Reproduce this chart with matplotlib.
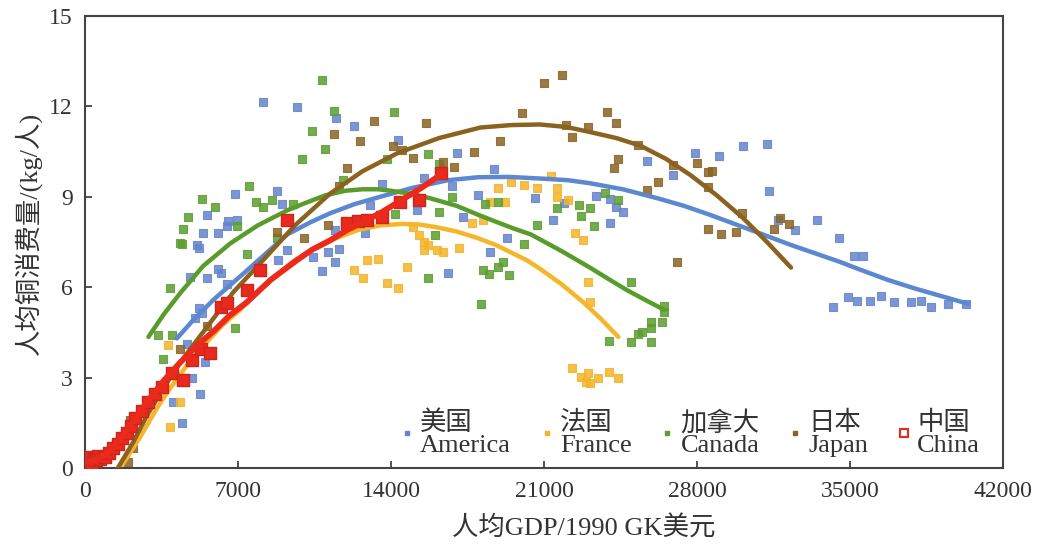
import numpy as np
import matplotlib
matplotlib.use("Agg")
import matplotlib.pyplot as plt
from matplotlib.lines import Line2D

plt.rcParams['font.family'] = ['Liberation Serif', 'Noto Sans CJK SC']

# per-capita GDP (1990 GK $) and per-capita copper use (kg/person), by country
usa_gdp = [4030, 4440, 4900, 5270, 5500, 4670, 5040, 5200, 5360, 4800, 5600, 6100, 6200, 6500,
           5200, 5100, 5400, 6100, 6500, 6550, 6960, 5600, 6870, 8800, 9000, 8150, 9700, 11500,
           12300, 14300, 13600, 13050, 12800, 11450, 8850, 9250, 10450, 10860, 11100, 11450,
           11600, 15500, 17000, 18000, 17300, 16600, 18700, 16800, 15200, 18550, 19300, 20600,
           21400, 21900, 23400, 24000, 24300, 24600, 24000, 25700, 26900, 27900, 29000, 30100,
           31200, 31300, 31700, 32500, 33500, 34500, 35200, 35600, 34200, 34900, 35300, 35900,
           36400, 37000, 37800, 38250, 38700, 39500, 40300]
usa_cu = [2.19, 1.49, 2.99, 2.45, 3.52, 4.1, 4.98, 5.3, 5.14, 6.34, 6.3, 6.6, 6.47, 6.1,
          7.3, 7.4, 7.8, 7.8, 8.03, 8.2, 8.23, 8.4, 9.1, 9.2, 8.76, 12.15, 11.98, 11.6,
          11.35, 10.9, 9.43, 8.73, 7.8, 7.9, 6.9, 7.24, 7.0, 6.55, 7.17, 6.84,
          7.27, 9.62, 10.45, 9.06, 8.33, 6.47, 9.92, 9.36, 8.56, 7.17, 7.63, 8.96,
          8.23, 8.8, 9.03, 8.93, 8.66, 8.5, 8.13, 10.2, 9.72, 10.45, 10.35, 10.69,
          10.75, 9.19, 8.23, 7.9, 8.23, 7.63, 7.04, 7.04, 5.34, 5.68, 5.54, 5.54,
          5.71, 5.5, 5.5, 5.54, 5.34, 5.44, 5.44]

fra_gdp = [3800, 4350, 3900, 12300, 12700, 12900, 13400, 13800, 14300, 14750, 15000, 15300,
           15500, 15500, 15700, 16100, 16400, 17100, 17700, 18200, 18550, 19200, 18900, 19500,
           20100, 20700, 21300, 21600, 21600, 22100, 22400, 22800, 23000, 23100, 22300, 22700,
           23000, 23100, 22900, 23450, 23950, 24400]
fra_cu = [4.08, 2.19, 1.36, 6.57, 6.3, 6.9, 6.94, 6.15, 5.98, 6.67, 8.0, 7.73,
          7.5, 7.24, 7.4, 7.24, 7.17, 7.3, 8.13, 8.23, 8.83, 8.83, 9.29, 9.49,
          9.39, 9.29, 9.69, 9.29, 9.0, 8.9, 7.8, 7.57, 6.17, 5.5, 3.32, 3.02,
          3.15, 2.82, 2.85, 2.99, 3.19, 2.99]

can_gdp = [3350, 3570, 3970, 3900, 4440, 4350, 4500, 4700, 5360, 5960, 6870, 7400, 8800, 6960,
           7500, 7800, 8150, 8570, 9500, 9940, 10400, 10860, 11000, 11400, 11800, 13800, 14150,
           14200, 15700, 16200, 16800, 16200, 16000, 15700, 18100, 18200, 18500, 18900, 19100,
           19400, 20100, 18300, 18900, 20700, 21600, 22600, 22700, 23100, 23300, 23800, 24400,
           25000, 23950, 25000, 25300, 25500, 25900, 25900, 25900, 26400, 26500, 26500]
can_cu = [4.41, 3.62, 4.41, 5.97, 7.43, 7.47, 7.93, 8.33, 8.93, 8.66, 4.65, 7.1, 7.63, 8.03,
          9.36, 8.83, 8.66, 8.9, 8.76, 10.26, 11.2, 12.88, 10.6, 11.85, 9.56, 10.26, 11.8,
          8.43, 10.42, 10.09, 8.99, 8.5, 7.73, 6.3, 5.44, 6.57, 6.44, 6.67, 6.84,
          6.4, 7.43, 8.76, 8.83, 8.07, 8.63, 8.73, 8.36, 8.63, 8.03, 9.13, 8.9,
          6.17, 4.21, 4.18, 4.45, 4.51, 4.18, 4.85, 4.65, 4.85, 5.38, 5.18]

jpn_gdp = [1900, 1970, 2060, 2200, 4350, 5600, 8800, 10000, 11100, 11600, 12000, 11400, 12600,
           13200, 14100, 14500, 15000, 15600, 16400, 16900, 17800, 19000, 20000, 21000, 21800,
           22000, 22300, 23000, 23900, 24300, 24400, 24200, 25300, 25700, 26200, 26900, 28000,
           28500, 28700, 28500, 28500, 29100, 29800, 30050, 31500, 31800, 32200, 27100]
jpn_cu = [1.1, 0.2, 1.6, 0.66, 3.95, 4.72, 7.83, 7.63, 8.05, 9.36, 9.96, 11.1, 10.85,
          11.5, 10.7, 10.55, 10.3, 11.45, 10.15, 10.0, 10.49, 10.85, 11.78, 12.78, 13.05,
          11.38, 10.98, 11.3, 11.8, 11.45, 10.26, 9.96, 10.72, 9.23, 9.49, 10.06, 10.12,
          9.82, 9.86, 9.33, 7.93, 7.77, 7.83, 8.46, 7.93, 8.3, 8.1, 6.84]

chn_gdp = [100, 200, 300, 400, 500, 600, 700, 900, 1100, 1300, 1500, 1700, 1900, 2100, 2300,
           2600, 2900, 3200, 3500, 4000, 4500, 4900, 5300, 5700, 6200, 6500, 7400, 8000, 9250,
           12000, 12500, 12900, 13600, 14400, 15300, 16300]
chn_cu = [0.2, 0.35, 0.1, 0.3, 0.25, 0.4, 0.3, 0.35, 0.5, 0.65, 0.8, 1.0, 1.15, 1.4, 1.65,
          1.9, 2.2, 2.45, 2.7, 3.15, 2.92, 3.6, 3.95, 3.8, 5.34, 5.47, 5.9, 6.57, 8.23,
          8.13, 8.2, 8.23, 8.33, 8.83, 8.9, 9.8]

# trend curves
usa_fit_x = [4200, 5000, 5900, 7400, 9250, 10300, 11200, 12300, 13500, 15000, 16600, 18000,
             19400, 21000, 22100, 23100, 24600, 26200, 27400, 28600, 29900, 31200, 32300,
             33500, 34500, 35400, 36700, 38000, 39200, 40400]
usa_fit_y = [4.3, 4.95, 5.6, 6.55, 7.75, 8.15, 8.45, 8.75, 9.0, 9.3, 9.55, 9.65,
             9.66, 9.6, 9.55, 9.45, 9.25, 8.95, 8.7, 8.4, 8.05, 7.7, 7.4,
             7.1, 6.85, 6.6, 6.25, 5.95, 5.7, 5.45]
fra_fit_x = [1700, 2100, 2500, 2900, 3300, 3800, 4350, 4900, 5600, 6300, 7100, 7900, 8700,
             9500, 10400, 11400, 12500, 13500, 14500, 15300, 16000, 17000, 18000, 18800,
             19500, 20200, 20800, 21800, 22800, 23600, 24400]
fra_fit_y = [0.1, 0.55, 1.0, 1.5, 2.0, 2.55, 3.1, 3.65, 4.2, 4.75, 5.25, 5.85, 6.35,
             6.85, 7.25, 7.6, 7.9, 8.05, 8.1, 8.08, 8.0, 7.85, 7.62, 7.4,
             7.15, 6.9, 6.62, 6.1, 5.5, 4.95, 4.35]
can_fit_x = [2900, 3600, 4350, 5400, 6640, 7900, 9250, 10100, 11000, 11900, 12700, 13400,
             14000, 14900, 15800, 17000, 18000, 18700, 19600, 20400, 21800, 23100, 24000,
             24800, 25700, 26500]
can_fit_y = [4.35, 5.1, 5.8, 6.7, 7.45, 8.05, 8.55, 8.8, 9.05, 9.2, 9.25, 9.25,
             9.2, 9.1, 8.95, 8.7, 8.4, 8.2, 7.95, 7.75, 7.2, 6.65, 6.25,
             5.9, 5.55, 5.25]
jpn_fit_x = [1500, 2200, 2800, 3500, 4350, 5600, 6800, 8150, 9600, 11200, 12700, 14300, 16200,
             18100, 19500, 20800, 22000, 23100, 24300, 25400, 26600, 27700, 28900, 30100,
             31200, 32300]
jpn_fit_y = [0.0, 0.85, 1.7, 2.55, 3.5, 4.7, 5.85, 6.9, 8.05, 9.1, 9.85, 10.45, 10.95,
             11.3, 11.38, 11.4, 11.32, 11.15, 10.95, 10.7, 10.25, 9.72, 9.05, 8.3,
             7.5, 6.65]
chn_fit_x = [0, 300, 600, 950, 1300, 1700, 2100, 2500, 2850, 3600, 4350, 5100, 5900, 6600,
             7400, 8500, 9700, 10400, 11200, 12000, 12700, 13600, 14500, 15400, 16300]
chn_fit_y = [0.2, 0.22, 0.3, 0.45, 0.7, 1.05, 1.45, 1.85, 2.2, 2.9, 3.5, 4.05, 4.55, 5.05,
             5.5, 6.25, 6.9, 7.25, 7.55, 7.9, 8.15, 8.5, 8.9, 9.3, 9.75]

names = ['美国\nAmerica', '法国\nFrance', '加拿大\nCanada', '日本\nJapan', '中国\nChina']
c_usa, c_fra, c_can, c_jpn, c_chn = '#6584cc', '#f3b42a', '#5c9e30', '#8a6424', '#e9291d'

fig = plt.figure(figsize=(10.41, 5.44), dpi=100)
ax = fig.add_axes([0.0817, 0.1397, 0.8818, 0.8309])

for gx, gy, c in [(usa_gdp, usa_cu, c_usa), (fra_gdp, fra_cu, c_fra),
                  (can_gdp, can_cu, c_can), (jpn_gdp, jpn_cu, c_jpn)]:
    ax.scatter(gx, gy, s=26, marker='s', facecolor=c, edgecolor=c, alpha=0.85,
               linewidths=0.8, zorder=2)

ax.plot(usa_fit_x, usa_fit_y, color='#5b88d0', lw=3.2, zorder=3, solid_capstyle='round')
ax.plot(fra_fit_x, fra_fit_y, color='#f6b62a', lw=3.2, zorder=3, solid_capstyle='round')
ax.plot(can_fit_x, can_fit_y, color='#5a9c2c', lw=3.2, zorder=3, solid_capstyle='round')
ax.plot(jpn_fit_x, jpn_fit_y, color='#8b6220', lw=3.2, zorder=3, solid_capstyle='round')

ax.scatter(chn_gdp, chn_cu, s=80, marker='s', facecolor=c_chn, edgecolor='#c8281c',
           linewidths=1, zorder=4)
ax.plot(chn_fit_x, chn_fit_y, color='#ec2a1c', lw=4.2, zorder=5, solid_capstyle='round')

ax.set_xlim(0, 42000)
ax.set_ylim(0, 15)
ax.set_xticks(range(0, 42001, 7000))
ax.set_yticks(range(0, 16, 3))
ax.tick_params(direction='in', length=5, width=1.2, labelsize=17, colors='#333333', pad=9)
for sp in ax.spines.values():
    sp.set_linewidth(1.5)
    sp.set_color('#444444')

ax.set_xlabel('人均GDP/1990 GK美元', fontsize=19, color='#333333')
ax.set_ylabel('人均铜消费量/(kg/人)', fontsize=19, color='#333333')
ax.xaxis.set_label_coords(0.5436, -0.105)
ax.yaxis.set_label_coords(-0.047, 0.52)

handles = [Line2D([], [], ls='none', marker='s', ms=3.5, mfc=c, mec=c)
           for c in (c_usa, c_fra, c_can, c_jpn)]
handles.append(Line2D([], [], ls='none', marker='s', ms=6, mfc='none', mec=c_chn, mew=1.5))
leg = ax.legend(handles, names, ncol=5, loc='lower right', bbox_to_anchor=(0.995, -0.017),
                frameon=False, fontsize=19, handlelength=0.6, handletextpad=0.2,
                columnspacing=1.05, borderpad=0.2)
for t in leg.get_texts():
    t.set_color('#333333')
    t.set_linespacing(1.0)

fig.savefig('out.png', dpi=100)
